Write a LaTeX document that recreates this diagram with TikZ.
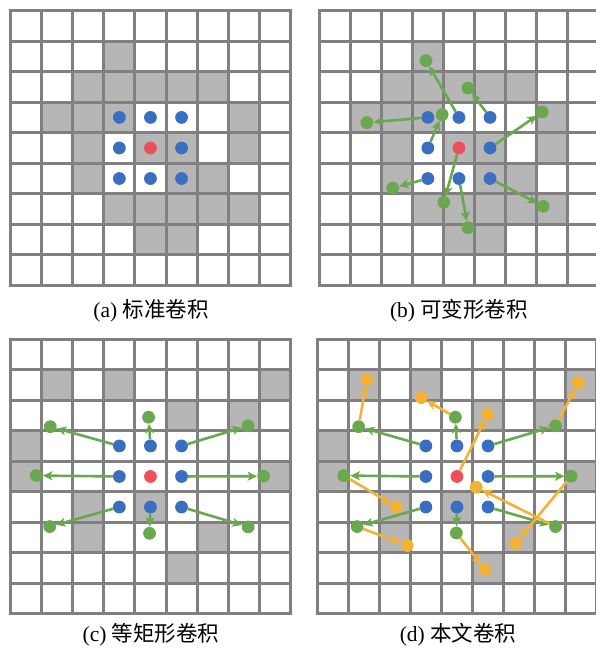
\documentclass[tikz,border=0pt]{standalone}
\usepackage{fontspec}
\setmainfont{Liberation Serif}
\newfontfamily\cjk{Noto Sans CJK SC}
\usetikzlibrary{arrows.meta}
\definecolor{gridc}{RGB}{128,128,128}
\definecolor{cellc}{RGB}{182,182,182}
\definecolor{dotblue}{RGB}{58,110,192}
\definecolor{dotred}{RGB}{236,80,90}
\definecolor{dotgreen}{RGB}{106,168,79}
\definecolor{dotorange}{RGB}{243,178,52}
\tikzset{
  gridln/.style={draw=gridc, line width=3pt},
  dotb/.style={circle, fill=dotblue, inner sep=0pt, minimum size=12.8pt},
  dotr/.style={circle, fill=dotred, inner sep=0pt, minimum size=12.8pt},
  dotg/.style={circle, fill=dotgreen, inner sep=0pt, minimum size=12.8pt},
  doto/.style={circle, fill=dotorange, inner sep=0pt, minimum size=12.8pt},
  garr/.style={draw=dotgreen, line width=2.6pt, -{Stealth[length=9.5pt,width=9pt,inset=2.5pt]}},
  oarr/.style={draw=dotorange, line width=2.6pt, -{Stealth[length=9.5pt,width=9pt,inset=2.5pt]}},
  caption/.style={font=\fontsize{21.5}{24}\selectfont, inner sep=0pt},
  cellgrid/.style={x={(31.1pt,0pt)}, y={(0pt,-30.55pt)}}
}
\newcommand\mygrid[2]{%
  \fill[white] (0,0) rectangle (9,9);
  \foreach \c/\r in {#2} \fill[cellc] (\c,\r) rectangle ++(1,1);
  \foreach \k in {1,...,8} {\draw[gridln] (\k,0) -- (\k,9); \draw[gridln] (0,\k) -- (9,\k);}
  \draw[gridln] (0,0) rectangle (9,9);
  \foreach \c/\r in {3/3,4/3,5/3,3/4,5/4,3/5,4/5,5/5} \node[dotb] (#1\c\r) at (\c+.5,\r+.5) {};
  \node[dotr] (#144) at (4.5,4.5) {};
}
\begin{document}
\begin{tikzpicture}[x=1pt,y=-1pt]
\clip (0,0) rectangle (596,650);
\fill[white] (0,0) rectangle (596,650);
% (a)
\begin{scope}[shift={(10.5,10.5)}, cellgrid]
  \mygrid{a}{3/1,2/2,3/2,4/2,5/2,6/2,1/3,2/3,3/3,7/3,2/4,4/4,5/4,7/4,2/5,5/5,6/5,3/6,4/6,5/6,6/6,7/6,4/7,5/7}
\end{scope}
% (b)
\begin{scope}[shift={(319,10.5)}, cellgrid]
  \mygrid{b}{3/1,2/2,3/2,4/2,5/2,6/2,1/3,2/3,3/3,7/3,2/4,4/4,5/4,7/4,2/5,5/5,6/5,3/6,4/6,5/6,6/6,7/6,4/7,5/7}
  \foreach \s/\p in {43/{(3.44,1.64)},53/{(4.79,2.54)},33/{(1.54,3.67)},34/{(3.96,3.41)},54/{(7.18,3.32)},35/{(2.37,5.81)},44/{(4.01,6.28)},45/{(4.79,7.11)},55/{(7.21,6.41)}}
    \node[dotg] (bg\s) at \p {};
  \foreach \s in {43,53,33,34,54,35,44,45,55}
    \draw[garr] (b\s) -- (bg\s);
\end{scope}
% (c)
\begin{scope}[shift={(10.5,339)}, cellgrid]
  \mygrid{c}{1/1,3/1,8/1,5/2,7/2,0/3,0/4,8/4,2/5,4/5,2/6,6/6,5/7}
  \foreach \s/\p in {33/{(1.28,2.87)},43/{(4.44,2.56)},53/{(7.64,2.84)},34/{(0.83,4.47)},54/{(8.14,4.49)},35/{(1.26,6.14)},45/{(4.47,6.36)},55/{(7.64,6.15)}}
    \node[dotg] (cg\s) at \p {};
  \foreach \s in {33,43,53,34,54,35,45,55}
    \draw[garr] (c\s) -- (cg\s);
\end{scope}
% (d)
\begin{scope}[shift={(317,339)}, cellgrid]
  \mygrid{d}{1/1,3/1,8/1,5/2,7/2,0/3,0/4,8/4,2/5,4/5,2/6,6/6,5/7}
  \foreach \s/\p in {33/{(1.34,2.87)},43/{(4.45,2.56)},53/{(7.67,2.84)},34/{(0.86,4.47)},54/{(8.17,4.49)},35/{(1.29,6.14)},45/{(4.48,6.35)},55/{(7.67,6.14)}}
    \node[dotg] (dg\s) at \p {};
  \foreach \s/\p in {33/{(1.60,1.33)},43/{(3.35,1.92)},44/{(5.49,2.47)},53/{(8.41,1.43)},34/{(2.55,5.49)},55/{(5.12,4.85)},54/{(6.39,6.68)},35/{(2.90,6.76)},45/{(5.40,7.55)}}
    \node[doto] (do\s) at \p {};
  \foreach \s in {33,43,53,34,54,35,45,55}
    \draw[garr] (d\s) -- (dg\s);
  \foreach \s in {33,43,53,34,54,35,45,55}
    \draw[oarr] (dg\s) -- (do\s);
  \draw[oarr] (d44) -- (do44);
\end{scope}
% captions
\node[caption] (capa) at (151,311) {(a) {\cjk 标准卷积}};
\node[caption] (capb) at (459,311) {(b) {\cjk 可变形卷积}};
\node[caption] (capc) at (151,635) {(c) {\cjk 等矩形卷积}};
\node[caption] (capd) at (458,635) {(d) {\cjk 本文卷积}};
\end{tikzpicture}
\end{document}
